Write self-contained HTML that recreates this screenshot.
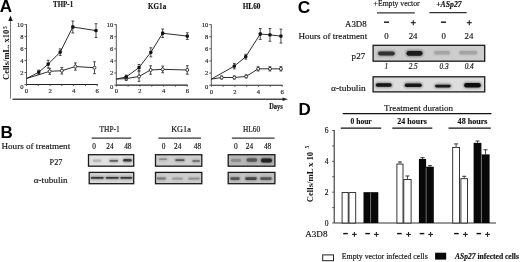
<!DOCTYPE html>
<html><head><meta charset="utf-8"><style>
html,body{margin:0;padding:0;background:#fff;}
body{width:520px;height:262px;overflow:hidden;}
svg{display:block;filter:blur(0.22px);}
</style></head><body>
<svg width="520" height="262" viewBox="0 0 520 262">
<defs><filter id="bl" x="-50%" y="-100%" width="200%" height="300%"><feGaussianBlur stdDeviation="0.6"/></filter><filter id="bl2" x="-50%" y="-150%" width="200%" height="400%"><feGaussianBlur stdDeviation="1.3"/></filter></defs>
<rect width="520" height="262" fill="#fff"/>
<text x="-0.2" y="11.9" font-family='"Liberation Sans", sans-serif' font-size="17" font-weight="bold" font-style="normal" text-anchor="start" fill="#000" >A</text>
<text x="0.5" y="137.8" font-family='"Liberation Sans", sans-serif' font-size="17" font-weight="bold" font-style="normal" text-anchor="start" fill="#000" >B</text>
<text x="297.8" y="12.8" font-family='"Liberation Sans", sans-serif' font-size="17.3" font-weight="bold" font-style="normal" text-anchor="start" fill="#000" >C</text>
<text x="298.5" y="115" font-family='"Liberation Sans", sans-serif' font-size="17" font-weight="bold" font-style="normal" text-anchor="start" fill="#000" >D</text>
<line x1="10.5" y1="20" x2="10.5" y2="98.5" stroke="#777" stroke-width="1"/>
<path d="M10.5,15.5 L8.3,21 L12.7,21 Z" fill="#111"/>
<line x1="12.5" y1="99.25" x2="284" y2="99.25" stroke="#484848" stroke-width="1.5"/>
<path d="M288,99.25 L282.5,97.4 L282.5,101.1 Z" fill="#222"/>
<text x="269.2" y="108.5" font-family='"Liberation Serif", serif' font-size="7.6" font-weight="bold" font-style="normal" text-anchor="start" fill="#111" stroke="#111" stroke-width="0.15" textLength="13.6" lengthAdjust="spacingAndGlyphs" >Days</text>
<text transform="translate(9.4,80.0) rotate(-90)" font-family='"Liberation Serif", serif' font-size="8.6" font-weight="bold" fill="#111" textLength="50.3" lengthAdjust="spacingAndGlyphs">Cells/mL. x10</text>
<text transform="translate(6.6,29.0) rotate(-90)" font-family='"Liberation Serif", serif' font-size="5.5" font-weight="bold" fill="#111">5</text>
<text x="53.1" y="6.9" font-family='"Liberation Serif", serif' font-size="8.5" font-weight="bold" font-style="normal" text-anchor="start" fill="#111" stroke="#111" stroke-width="0.15" textLength="20" lengthAdjust="spacingAndGlyphs" >THP-1</text>
<line x1="26.5" y1="84.5" x2="26.5" y2="24.299999999999994" stroke="#555" stroke-width="1"/>
<line x1="26.5" y1="84.5" x2="97.67999999999999" y2="84.5" stroke="#222" stroke-width="1.1"/>
<line x1="24.5" y1="84.5" x2="26.5" y2="84.5" stroke="#333" stroke-width="0.8"/>
<text x="23.5" y="88.6" font-family='"Liberation Serif", serif' font-size="6.6" font-weight="normal" font-style="normal" text-anchor="end" fill="#222" stroke="#222" stroke-width="0.15" >0</text>
<line x1="24.5" y1="72.52" x2="26.5" y2="72.52" stroke="#333" stroke-width="0.8"/>
<text x="23.5" y="74.82" font-family='"Liberation Serif", serif' font-size="6.6" font-weight="normal" font-style="normal" text-anchor="end" fill="#222" stroke="#222" stroke-width="0.15" >2</text>
<line x1="24.5" y1="60.54" x2="26.5" y2="60.54" stroke="#333" stroke-width="0.8"/>
<text x="23.5" y="62.839999999999996" font-family='"Liberation Serif", serif' font-size="6.6" font-weight="normal" font-style="normal" text-anchor="end" fill="#222" stroke="#222" stroke-width="0.15" >4</text>
<line x1="24.5" y1="48.56" x2="26.5" y2="48.56" stroke="#333" stroke-width="0.8"/>
<text x="23.5" y="50.86" font-family='"Liberation Serif", serif' font-size="6.6" font-weight="normal" font-style="normal" text-anchor="end" fill="#222" stroke="#222" stroke-width="0.15" >6</text>
<line x1="24.5" y1="36.58" x2="26.5" y2="36.58" stroke="#333" stroke-width="0.8"/>
<text x="23.5" y="38.879999999999995" font-family='"Liberation Serif", serif' font-size="6.6" font-weight="normal" font-style="normal" text-anchor="end" fill="#222" stroke="#222" stroke-width="0.15" >8</text>
<line x1="24.5" y1="24.599999999999994" x2="26.5" y2="24.599999999999994" stroke="#333" stroke-width="0.8"/>
<text x="23.5" y="26.899999999999995" font-family='"Liberation Serif", serif' font-size="6.6" font-weight="normal" font-style="normal" text-anchor="end" fill="#222" stroke="#222" stroke-width="0.15" >10</text>
<line x1="26.5" y1="84.5" x2="26.5" y2="86.1" stroke="#333" stroke-width="0.8"/>
<text x="26.5" y="92.8" font-family='"Liberation Serif", serif' font-size="6.6" font-weight="normal" font-style="normal" text-anchor="middle" fill="#222" stroke="#222" stroke-width="0.15" >0</text>
<line x1="38.28" y1="84.5" x2="38.28" y2="86.1" stroke="#333" stroke-width="0.8"/>
<line x1="50.06" y1="84.5" x2="50.06" y2="86.1" stroke="#333" stroke-width="0.8"/>
<text x="50.06" y="92.8" font-family='"Liberation Serif", serif' font-size="6.6" font-weight="normal" font-style="normal" text-anchor="middle" fill="#222" stroke="#222" stroke-width="0.15" >2</text>
<line x1="61.839999999999996" y1="84.5" x2="61.839999999999996" y2="86.1" stroke="#333" stroke-width="0.8"/>
<line x1="73.62" y1="84.5" x2="73.62" y2="86.1" stroke="#333" stroke-width="0.8"/>
<text x="73.62" y="92.8" font-family='"Liberation Serif", serif' font-size="6.6" font-weight="normal" font-style="normal" text-anchor="middle" fill="#222" stroke="#222" stroke-width="0.15" >4</text>
<line x1="85.4" y1="84.5" x2="85.4" y2="86.1" stroke="#333" stroke-width="0.8"/>
<line x1="97.17999999999999" y1="84.5" x2="97.17999999999999" y2="86.1" stroke="#333" stroke-width="0.8"/>
<text x="97.17999999999999" y="92.8" font-family='"Liberation Serif", serif' font-size="6.6" font-weight="normal" font-style="normal" text-anchor="middle" fill="#222" stroke="#222" stroke-width="0.15" >6</text>
<path d="M26.50,78.51 L49.71,71.32 L61.84,70.72 L75.39,66.53 L94.47,67.73" fill="none" stroke="#222" stroke-width="0.95"/>
<line x1="49.706599999999995" y1="68.327" x2="49.706599999999995" y2="74.317" stroke="#222" stroke-width="0.8"/>
<line x1="48.306599999999996" y1="68.327" x2="51.10659999999999" y2="68.327" stroke="#222" stroke-width="0.8"/>
<line x1="48.306599999999996" y1="74.317" x2="51.10659999999999" y2="74.317" stroke="#222" stroke-width="0.8"/>
<line x1="61.839999999999996" y1="67.4285" x2="61.839999999999996" y2="74.0175" stroke="#222" stroke-width="0.8"/>
<line x1="60.44" y1="67.4285" x2="63.239999999999995" y2="67.4285" stroke="#222" stroke-width="0.8"/>
<line x1="60.44" y1="74.0175" x2="63.239999999999995" y2="74.0175" stroke="#222" stroke-width="0.8"/>
<line x1="75.387" y1="62.936" x2="75.387" y2="70.124" stroke="#222" stroke-width="0.8"/>
<line x1="73.987" y1="62.936" x2="76.787" y2="62.936" stroke="#222" stroke-width="0.8"/>
<line x1="73.987" y1="70.124" x2="76.787" y2="70.124" stroke="#222" stroke-width="0.8"/>
<line x1="94.47059999999999" y1="61.738" x2="94.47059999999999" y2="73.718" stroke="#222" stroke-width="0.8"/>
<line x1="93.07059999999998" y1="61.738" x2="95.8706" y2="61.738" stroke="#222" stroke-width="0.8"/>
<line x1="93.07059999999998" y1="73.718" x2="95.8706" y2="73.718" stroke="#222" stroke-width="0.8"/>
<circle cx="49.71" cy="71.32" r="1.5" fill="#fff" stroke="#222" stroke-width="0.9"/>
<circle cx="61.84" cy="70.72" r="1.5" fill="#fff" stroke="#222" stroke-width="0.9"/>
<circle cx="75.39" cy="66.53" r="1.5" fill="#fff" stroke="#222" stroke-width="0.9"/>
<circle cx="94.47" cy="67.73" r="1.5" fill="#fff" stroke="#222" stroke-width="0.9"/>
<path d="M26.50,78.51 L38.75,72.22 L48.18,64.13 L60.19,52.15 L72.80,27.00 L96.00,30.59" fill="none" stroke="#222" stroke-width="0.95"/>
<line x1="38.7512" y1="70.124" x2="38.7512" y2="74.31700000000001" stroke="#222" stroke-width="0.8"/>
<line x1="37.3512" y1="70.124" x2="40.151199999999996" y2="70.124" stroke="#222" stroke-width="0.8"/>
<line x1="37.3512" y1="74.31700000000001" x2="40.151199999999996" y2="74.31700000000001" stroke="#222" stroke-width="0.8"/>
<line x1="48.175200000000004" y1="60.2405" x2="48.175200000000004" y2="68.0275" stroke="#222" stroke-width="0.8"/>
<line x1="46.775200000000005" y1="60.2405" x2="49.5752" y2="60.2405" stroke="#222" stroke-width="0.8"/>
<line x1="46.775200000000005" y1="68.0275" x2="49.5752" y2="68.0275" stroke="#222" stroke-width="0.8"/>
<line x1="60.190799999999996" y1="48.8595" x2="60.190799999999996" y2="55.448499999999996" stroke="#222" stroke-width="0.8"/>
<line x1="58.7908" y1="48.8595" x2="61.590799999999994" y2="48.8595" stroke="#222" stroke-width="0.8"/>
<line x1="58.7908" y1="55.448499999999996" x2="61.590799999999994" y2="55.448499999999996" stroke="#222" stroke-width="0.8"/>
<line x1="72.7954" y1="21.006" x2="72.7954" y2="32.986" stroke="#222" stroke-width="0.8"/>
<line x1="71.3954" y1="21.006" x2="74.1954" y2="21.006" stroke="#222" stroke-width="0.8"/>
<line x1="71.3954" y1="32.986" x2="74.1954" y2="32.986" stroke="#222" stroke-width="0.8"/>
<line x1="96.002" y1="23.701499999999996" x2="96.002" y2="37.478500000000004" stroke="#222" stroke-width="0.8"/>
<line x1="94.60199999999999" y1="23.701499999999996" x2="97.402" y2="23.701499999999996" stroke="#222" stroke-width="0.8"/>
<line x1="94.60199999999999" y1="37.478500000000004" x2="97.402" y2="37.478500000000004" stroke="#222" stroke-width="0.8"/>
<rect x="37.1012" y="70.5705" width="3.3" height="3.3" fill="#111" stroke="none" stroke-width="1" rx="1"/>
<rect x="46.525200000000005" y="62.484" width="3.3" height="3.3" fill="#111" stroke="none" stroke-width="1" rx="1"/>
<rect x="58.5408" y="50.504" width="3.3" height="3.3" fill="#111" stroke="none" stroke-width="1" rx="1"/>
<rect x="71.1454" y="25.346000000000004" width="3.3" height="3.3" fill="#111" stroke="none" stroke-width="1" rx="1"/>
<rect x="94.35199999999999" y="28.939999999999998" width="3.3" height="3.3" fill="#111" stroke="none" stroke-width="1" rx="1"/>
<text x="148.1" y="8.9" font-family='"Liberation Serif", serif' font-size="8.5" font-weight="bold" font-style="normal" text-anchor="start" fill="#111" stroke="#111" stroke-width="0.15" textLength="18.1" lengthAdjust="spacingAndGlyphs" >KG1a</text>
<line x1="116.3" y1="85.1" x2="116.3" y2="24.300000000000008" stroke="#555" stroke-width="1"/>
<line x1="116.3" y1="85.1" x2="187.78" y2="85.1" stroke="#222" stroke-width="1.1"/>
<line x1="114.3" y1="85.1" x2="116.3" y2="85.1" stroke="#333" stroke-width="0.8"/>
<text x="113.3" y="89.19999999999999" font-family='"Liberation Serif", serif' font-size="6.6" font-weight="normal" font-style="normal" text-anchor="end" fill="#222" stroke="#222" stroke-width="0.15" >0</text>
<line x1="114.3" y1="73.0" x2="116.3" y2="73.0" stroke="#333" stroke-width="0.8"/>
<text x="113.3" y="75.3" font-family='"Liberation Serif", serif' font-size="6.6" font-weight="normal" font-style="normal" text-anchor="end" fill="#222" stroke="#222" stroke-width="0.15" >2</text>
<line x1="114.3" y1="60.9" x2="116.3" y2="60.9" stroke="#333" stroke-width="0.8"/>
<text x="113.3" y="63.199999999999996" font-family='"Liberation Serif", serif' font-size="6.6" font-weight="normal" font-style="normal" text-anchor="end" fill="#222" stroke="#222" stroke-width="0.15" >4</text>
<line x1="114.3" y1="48.8" x2="116.3" y2="48.8" stroke="#333" stroke-width="0.8"/>
<text x="113.3" y="51.099999999999994" font-family='"Liberation Serif", serif' font-size="6.6" font-weight="normal" font-style="normal" text-anchor="end" fill="#222" stroke="#222" stroke-width="0.15" >6</text>
<line x1="114.3" y1="36.7" x2="116.3" y2="36.7" stroke="#333" stroke-width="0.8"/>
<text x="113.3" y="39.0" font-family='"Liberation Serif", serif' font-size="6.6" font-weight="normal" font-style="normal" text-anchor="end" fill="#222" stroke="#222" stroke-width="0.15" >8</text>
<line x1="114.3" y1="24.60000000000001" x2="116.3" y2="24.60000000000001" stroke="#333" stroke-width="0.8"/>
<text x="113.3" y="26.90000000000001" font-family='"Liberation Serif", serif' font-size="6.6" font-weight="normal" font-style="normal" text-anchor="end" fill="#222" stroke="#222" stroke-width="0.15" >10</text>
<line x1="116.3" y1="85.1" x2="116.3" y2="86.69999999999999" stroke="#333" stroke-width="0.8"/>
<text x="116.3" y="93.39999999999999" font-family='"Liberation Serif", serif' font-size="6.6" font-weight="normal" font-style="normal" text-anchor="middle" fill="#222" stroke="#222" stroke-width="0.15" >0</text>
<line x1="128.13" y1="85.1" x2="128.13" y2="86.69999999999999" stroke="#333" stroke-width="0.8"/>
<line x1="139.96" y1="85.1" x2="139.96" y2="86.69999999999999" stroke="#333" stroke-width="0.8"/>
<text x="139.96" y="93.39999999999999" font-family='"Liberation Serif", serif' font-size="6.6" font-weight="normal" font-style="normal" text-anchor="middle" fill="#222" stroke="#222" stroke-width="0.15" >2</text>
<line x1="151.79" y1="85.1" x2="151.79" y2="86.69999999999999" stroke="#333" stroke-width="0.8"/>
<line x1="163.62" y1="85.1" x2="163.62" y2="86.69999999999999" stroke="#333" stroke-width="0.8"/>
<text x="163.62" y="93.39999999999999" font-family='"Liberation Serif", serif' font-size="6.6" font-weight="normal" font-style="normal" text-anchor="middle" fill="#222" stroke="#222" stroke-width="0.15" >4</text>
<line x1="175.45" y1="85.1" x2="175.45" y2="86.69999999999999" stroke="#333" stroke-width="0.8"/>
<line x1="187.28" y1="85.1" x2="187.28" y2="86.69999999999999" stroke="#333" stroke-width="0.8"/>
<text x="187.28" y="93.39999999999999" font-family='"Liberation Serif", serif' font-size="6.6" font-weight="normal" font-style="normal" text-anchor="middle" fill="#222" stroke="#222" stroke-width="0.15" >6</text>
<path d="M116.30,79.05 L126.24,78.57 L139.01,76.51 L150.61,69.97 L162.67,69.37 L187.28,69.97" fill="none" stroke="#222" stroke-width="0.95"/>
<line x1="126.2372" y1="76.75099999999999" x2="126.2372" y2="80.381" stroke="#222" stroke-width="0.8"/>
<line x1="124.8372" y1="76.75099999999999" x2="127.6372" y2="76.75099999999999" stroke="#222" stroke-width="0.8"/>
<line x1="124.8372" y1="80.381" x2="127.6372" y2="80.381" stroke="#222" stroke-width="0.8"/>
<line x1="139.0136" y1="71.669" x2="139.0136" y2="81.34899999999999" stroke="#222" stroke-width="0.8"/>
<line x1="137.6136" y1="71.669" x2="140.4136" y2="71.669" stroke="#222" stroke-width="0.8"/>
<line x1="137.6136" y1="81.34899999999999" x2="140.4136" y2="81.34899999999999" stroke="#222" stroke-width="0.8"/>
<line x1="150.607" y1="65.74" x2="150.607" y2="74.21" stroke="#222" stroke-width="0.8"/>
<line x1="149.207" y1="65.74" x2="152.007" y2="65.74" stroke="#222" stroke-width="0.8"/>
<line x1="149.207" y1="74.21" x2="152.007" y2="74.21" stroke="#222" stroke-width="0.8"/>
<line x1="162.6736" y1="66.04249999999999" x2="162.6736" y2="72.69749999999999" stroke="#222" stroke-width="0.8"/>
<line x1="161.2736" y1="66.04249999999999" x2="164.0736" y2="66.04249999999999" stroke="#222" stroke-width="0.8"/>
<line x1="161.2736" y1="72.69749999999999" x2="164.0736" y2="72.69749999999999" stroke="#222" stroke-width="0.8"/>
<line x1="187.28" y1="65.74" x2="187.28" y2="74.21" stroke="#222" stroke-width="0.8"/>
<line x1="185.88" y1="65.74" x2="188.68" y2="65.74" stroke="#222" stroke-width="0.8"/>
<line x1="185.88" y1="74.21" x2="188.68" y2="74.21" stroke="#222" stroke-width="0.8"/>
<circle cx="126.24" cy="78.57" r="1.5" fill="#fff" stroke="#222" stroke-width="0.9"/>
<circle cx="139.01" cy="76.51" r="1.5" fill="#fff" stroke="#222" stroke-width="0.9"/>
<circle cx="150.61" cy="69.97" r="1.5" fill="#fff" stroke="#222" stroke-width="0.9"/>
<circle cx="162.67" cy="69.37" r="1.5" fill="#fff" stroke="#222" stroke-width="0.9"/>
<circle cx="187.28" cy="69.97" r="1.5" fill="#fff" stroke="#222" stroke-width="0.9"/>
<path d="M116.30,79.05 L126.24,76.93 L139.01,67.56 L150.84,52.31 L162.67,33.25 L187.28,36.10" fill="none" stroke="#222" stroke-width="0.95"/>
<line x1="126.2372" y1="75.11749999999999" x2="126.2372" y2="78.7475" stroke="#222" stroke-width="0.8"/>
<line x1="124.8372" y1="75.11749999999999" x2="127.6372" y2="75.11749999999999" stroke="#222" stroke-width="0.8"/>
<line x1="124.8372" y1="78.7475" x2="127.6372" y2="78.7475" stroke="#222" stroke-width="0.8"/>
<line x1="139.0136" y1="64.53" x2="139.0136" y2="70.58" stroke="#222" stroke-width="0.8"/>
<line x1="137.6136" y1="64.53" x2="140.4136" y2="64.53" stroke="#222" stroke-width="0.8"/>
<line x1="137.6136" y1="70.58" x2="140.4136" y2="70.58" stroke="#222" stroke-width="0.8"/>
<line x1="150.84359999999998" y1="47.7715" x2="150.84359999999998" y2="56.8465" stroke="#222" stroke-width="0.8"/>
<line x1="149.44359999999998" y1="47.7715" x2="152.2436" y2="47.7715" stroke="#222" stroke-width="0.8"/>
<line x1="149.44359999999998" y1="56.8465" x2="152.2436" y2="56.8465" stroke="#222" stroke-width="0.8"/>
<line x1="162.6736" y1="29.016500000000008" x2="162.6736" y2="37.4865" stroke="#222" stroke-width="0.8"/>
<line x1="161.2736" y1="29.016500000000008" x2="164.0736" y2="29.016500000000008" stroke="#222" stroke-width="0.8"/>
<line x1="161.2736" y1="37.4865" x2="164.0736" y2="37.4865" stroke="#222" stroke-width="0.8"/>
<line x1="187.28" y1="32.7675" x2="187.28" y2="39.42250000000001" stroke="#222" stroke-width="0.8"/>
<line x1="185.88" y1="32.7675" x2="188.68" y2="32.7675" stroke="#222" stroke-width="0.8"/>
<line x1="185.88" y1="39.42250000000001" x2="188.68" y2="39.42250000000001" stroke="#222" stroke-width="0.8"/>
<rect x="124.5872" y="75.28249999999998" width="3.3" height="3.3" fill="#111" stroke="none" stroke-width="1" rx="1"/>
<rect x="137.3636" y="65.905" width="3.3" height="3.3" fill="#111" stroke="none" stroke-width="1" rx="1"/>
<rect x="149.19359999999998" y="50.659" width="3.3" height="3.3" fill="#111" stroke="none" stroke-width="1" rx="1"/>
<rect x="161.0236" y="31.6015" width="3.3" height="3.3" fill="#111" stroke="none" stroke-width="1" rx="1"/>
<rect x="185.63" y="34.44500000000001" width="3.3" height="3.3" fill="#111" stroke="none" stroke-width="1" rx="1"/>
<text x="242.7" y="8.5" font-family='"Liberation Serif", serif' font-size="8.5" font-weight="bold" font-style="normal" text-anchor="start" fill="#111" stroke="#111" stroke-width="0.15" textLength="17.7" lengthAdjust="spacingAndGlyphs" >HL60</text>
<line x1="211.3" y1="85.2" x2="211.3" y2="24.299999999999994" stroke="#555" stroke-width="1"/>
<line x1="211.3" y1="85.2" x2="282.6" y2="85.2" stroke="#222" stroke-width="1.1"/>
<line x1="209.3" y1="85.2" x2="211.3" y2="85.2" stroke="#333" stroke-width="0.8"/>
<text x="208.3" y="89.3" font-family='"Liberation Serif", serif' font-size="6.6" font-weight="normal" font-style="normal" text-anchor="end" fill="#222" stroke="#222" stroke-width="0.15" >0</text>
<line x1="209.3" y1="73.08" x2="211.3" y2="73.08" stroke="#333" stroke-width="0.8"/>
<text x="208.3" y="75.38" font-family='"Liberation Serif", serif' font-size="6.6" font-weight="normal" font-style="normal" text-anchor="end" fill="#222" stroke="#222" stroke-width="0.15" >2</text>
<line x1="209.3" y1="60.96" x2="211.3" y2="60.96" stroke="#333" stroke-width="0.8"/>
<text x="208.3" y="63.26" font-family='"Liberation Serif", serif' font-size="6.6" font-weight="normal" font-style="normal" text-anchor="end" fill="#222" stroke="#222" stroke-width="0.15" >4</text>
<line x1="209.3" y1="48.84" x2="211.3" y2="48.84" stroke="#333" stroke-width="0.8"/>
<text x="208.3" y="51.14" font-family='"Liberation Serif", serif' font-size="6.6" font-weight="normal" font-style="normal" text-anchor="end" fill="#222" stroke="#222" stroke-width="0.15" >6</text>
<line x1="209.3" y1="36.72" x2="211.3" y2="36.72" stroke="#333" stroke-width="0.8"/>
<text x="208.3" y="39.019999999999996" font-family='"Liberation Serif", serif' font-size="6.6" font-weight="normal" font-style="normal" text-anchor="end" fill="#222" stroke="#222" stroke-width="0.15" >8</text>
<line x1="209.3" y1="24.599999999999994" x2="211.3" y2="24.599999999999994" stroke="#333" stroke-width="0.8"/>
<text x="208.3" y="26.899999999999995" font-family='"Liberation Serif", serif' font-size="6.6" font-weight="normal" font-style="normal" text-anchor="end" fill="#222" stroke="#222" stroke-width="0.15" >10</text>
<line x1="211.3" y1="85.2" x2="211.3" y2="86.8" stroke="#333" stroke-width="0.8"/>
<text x="211.3" y="93.5" font-family='"Liberation Serif", serif' font-size="6.6" font-weight="normal" font-style="normal" text-anchor="middle" fill="#222" stroke="#222" stroke-width="0.15" >0</text>
<line x1="223.10000000000002" y1="85.2" x2="223.10000000000002" y2="86.8" stroke="#333" stroke-width="0.8"/>
<line x1="234.9" y1="85.2" x2="234.9" y2="86.8" stroke="#333" stroke-width="0.8"/>
<text x="234.9" y="93.5" font-family='"Liberation Serif", serif' font-size="6.6" font-weight="normal" font-style="normal" text-anchor="middle" fill="#222" stroke="#222" stroke-width="0.15" >2</text>
<line x1="246.70000000000002" y1="85.2" x2="246.70000000000002" y2="86.8" stroke="#333" stroke-width="0.8"/>
<line x1="258.5" y1="85.2" x2="258.5" y2="86.8" stroke="#333" stroke-width="0.8"/>
<text x="258.5" y="93.5" font-family='"Liberation Serif", serif' font-size="6.6" font-weight="normal" font-style="normal" text-anchor="middle" fill="#222" stroke="#222" stroke-width="0.15" >4</text>
<line x1="270.3" y1="85.2" x2="270.3" y2="86.8" stroke="#333" stroke-width="0.8"/>
<line x1="282.1" y1="85.2" x2="282.1" y2="86.8" stroke="#333" stroke-width="0.8"/>
<text x="282.1" y="93.5" font-family='"Liberation Serif", serif' font-size="6.6" font-weight="normal" font-style="normal" text-anchor="middle" fill="#222" stroke="#222" stroke-width="0.15" >6</text>
<path d="M211.30,79.14 L221.68,77.50 L234.31,77.50 L246.11,76.41 L258.15,68.84 L269.95,68.84 L280.92,68.84" fill="none" stroke="#222" stroke-width="0.95"/>
<line x1="221.68400000000003" y1="75.9888" x2="221.68400000000003" y2="79.0188" stroke="#222" stroke-width="0.8"/>
<line x1="220.28400000000002" y1="75.9888" x2="223.08400000000003" y2="75.9888" stroke="#222" stroke-width="0.8"/>
<line x1="220.28400000000002" y1="79.0188" x2="223.08400000000003" y2="79.0188" stroke="#222" stroke-width="0.8"/>
<line x1="234.31" y1="75.9888" x2="234.31" y2="79.0188" stroke="#222" stroke-width="0.8"/>
<line x1="232.91" y1="75.9888" x2="235.71" y2="75.9888" stroke="#222" stroke-width="0.8"/>
<line x1="232.91" y1="79.0188" x2="235.71" y2="79.0188" stroke="#222" stroke-width="0.8"/>
<line x1="246.11" y1="74.898" x2="246.11" y2="77.928" stroke="#222" stroke-width="0.8"/>
<line x1="244.71" y1="74.898" x2="247.51000000000002" y2="74.898" stroke="#222" stroke-width="0.8"/>
<line x1="244.71" y1="77.928" x2="247.51000000000002" y2="77.928" stroke="#222" stroke-width="0.8"/>
<line x1="258.146" y1="66.717" x2="258.146" y2="70.959" stroke="#222" stroke-width="0.8"/>
<line x1="256.74600000000004" y1="66.717" x2="259.546" y2="66.717" stroke="#222" stroke-width="0.8"/>
<line x1="256.74600000000004" y1="70.959" x2="259.546" y2="70.959" stroke="#222" stroke-width="0.8"/>
<line x1="269.946" y1="66.717" x2="269.946" y2="70.959" stroke="#222" stroke-width="0.8"/>
<line x1="268.54600000000005" y1="66.717" x2="271.346" y2="66.717" stroke="#222" stroke-width="0.8"/>
<line x1="268.54600000000005" y1="70.959" x2="271.346" y2="70.959" stroke="#222" stroke-width="0.8"/>
<line x1="280.92" y1="66.717" x2="280.92" y2="70.959" stroke="#222" stroke-width="0.8"/>
<line x1="279.52000000000004" y1="66.717" x2="282.32" y2="66.717" stroke="#222" stroke-width="0.8"/>
<line x1="279.52000000000004" y1="70.959" x2="282.32" y2="70.959" stroke="#222" stroke-width="0.8"/>
<circle cx="221.68" cy="77.50" r="1.5" fill="#fff" stroke="#222" stroke-width="0.9"/>
<circle cx="234.31" cy="77.50" r="1.5" fill="#fff" stroke="#222" stroke-width="0.9"/>
<circle cx="246.11" cy="76.41" r="1.5" fill="#fff" stroke="#222" stroke-width="0.9"/>
<circle cx="258.15" cy="68.84" r="1.5" fill="#fff" stroke="#222" stroke-width="0.9"/>
<circle cx="269.95" cy="68.84" r="1.5" fill="#fff" stroke="#222" stroke-width="0.9"/>
<circle cx="280.92" cy="68.84" r="1.5" fill="#fff" stroke="#222" stroke-width="0.9"/>
<path d="M211.30,79.14 L234.31,66.11 L245.76,56.72 L260.27,33.99 L269.95,34.90 L280.92,36.11" fill="none" stroke="#222" stroke-width="0.95"/>
<line x1="234.31" y1="63.384" x2="234.31" y2="68.83800000000001" stroke="#222" stroke-width="0.8"/>
<line x1="232.91" y1="63.384" x2="235.71" y2="63.384" stroke="#222" stroke-width="0.8"/>
<line x1="232.91" y1="68.83800000000001" x2="235.71" y2="68.83800000000001" stroke="#222" stroke-width="0.8"/>
<line x1="245.75600000000003" y1="54.294" x2="245.75600000000003" y2="59.142" stroke="#222" stroke-width="0.8"/>
<line x1="244.35600000000002" y1="54.294" x2="247.15600000000003" y2="54.294" stroke="#222" stroke-width="0.8"/>
<line x1="244.35600000000002" y1="59.142" x2="247.15600000000003" y2="59.142" stroke="#222" stroke-width="0.8"/>
<line x1="260.27000000000004" y1="28.539" x2="260.27000000000004" y2="39.447" stroke="#222" stroke-width="0.8"/>
<line x1="258.87000000000006" y1="28.539" x2="261.67" y2="28.539" stroke="#222" stroke-width="0.8"/>
<line x1="258.87000000000006" y1="39.447" x2="261.67" y2="39.447" stroke="#222" stroke-width="0.8"/>
<line x1="269.946" y1="28.538999999999987" x2="269.946" y2="41.26499999999999" stroke="#222" stroke-width="0.8"/>
<line x1="268.54600000000005" y1="28.538999999999987" x2="271.346" y2="28.538999999999987" stroke="#222" stroke-width="0.8"/>
<line x1="268.54600000000005" y1="41.26499999999999" x2="271.346" y2="41.26499999999999" stroke="#222" stroke-width="0.8"/>
<line x1="280.92" y1="29.144999999999996" x2="280.92" y2="43.083000000000006" stroke="#222" stroke-width="0.8"/>
<line x1="279.52000000000004" y1="29.144999999999996" x2="282.32" y2="29.144999999999996" stroke="#222" stroke-width="0.8"/>
<line x1="279.52000000000004" y1="43.083000000000006" x2="282.32" y2="43.083000000000006" stroke="#222" stroke-width="0.8"/>
<rect x="232.66" y="64.461" width="3.3" height="3.3" fill="#111" stroke="none" stroke-width="1" rx="1"/>
<rect x="244.10600000000002" y="55.068000000000005" width="3.3" height="3.3" fill="#111" stroke="none" stroke-width="1" rx="1"/>
<rect x="258.62000000000006" y="32.343" width="3.3" height="3.3" fill="#111" stroke="none" stroke-width="1" rx="1"/>
<rect x="268.29600000000005" y="33.251999999999995" width="3.3" height="3.3" fill="#111" stroke="none" stroke-width="1" rx="1"/>
<rect x="279.27000000000004" y="34.464000000000006" width="3.3" height="3.3" fill="#111" stroke="none" stroke-width="1" rx="1"/>
<text x="1.5" y="148.7" font-family='"Liberation Serif", serif' font-size="9" font-weight="normal" font-style="normal" text-anchor="start" fill="#111" stroke="#111" stroke-width="0.15" textLength="68.7" lengthAdjust="spacingAndGlyphs" >Hours of treatment</text>
<text x="62.5" y="165.4" font-family='"Liberation Serif", serif' font-size="9" font-weight="normal" font-style="normal" text-anchor="end" fill="#111" stroke="#111" stroke-width="0.15" textLength="12.9" lengthAdjust="spacingAndGlyphs" >P27</text>
<text x="67.7" y="182.7" font-family='"Liberation Serif", serif' font-size="9" font-weight="normal" font-style="normal" text-anchor="end" fill="#111" stroke="#111" stroke-width="0.15" textLength="34" lengthAdjust="spacingAndGlyphs" >&#945;-tubulin</text>
<text x="109.6" y="132.1" font-family='"Liberation Serif", serif' font-size="7.4" font-weight="normal" font-style="normal" text-anchor="middle" fill="#111" stroke="#111" stroke-width="0.15" textLength="20.4" lengthAdjust="spacingAndGlyphs" >THP-1</text>
<line x1="91.6" y1="138.1" x2="131.3" y2="138.1" stroke="#333" stroke-width="1.2"/>
<text x="94.10000000000001" y="149.0" font-family='"Liberation Serif", serif' font-size="7.3" font-weight="normal" font-style="normal" text-anchor="middle" fill="#111" stroke="#111" stroke-width="0.15" >0</text>
<text x="109.9" y="149.0" font-family='"Liberation Serif", serif' font-size="7.3" font-weight="normal" font-style="normal" text-anchor="middle" fill="#111" stroke="#111" stroke-width="0.15" >24</text>
<text x="127.8" y="149.0" font-family='"Liberation Serif", serif' font-size="7.3" font-weight="normal" font-style="normal" text-anchor="middle" fill="#111" stroke="#111" stroke-width="0.15" >48</text>
<rect x="88.5" y="154.7" width="45.2" height="11.5" fill="#e2e2e2" stroke="#1a1a1a" stroke-width="1.3" />
<rect x="92.0" y="158.8" width="10.099999999999994" height="4.0" rx="2.0" fill="#b8b8b8" opacity="0.45" filter="url(#bl2)"/>
<rect x="92.8" y="159.6" width="8.499999999999995" height="2.4" rx="1.2" fill="#b8b8b8" filter="url(#bl)"/>
<rect x="108.7" y="159.10000000000002" width="10.099999999999994" height="3.4000000000000004" rx="1.7000000000000002" fill="#606060" opacity="0.45" filter="url(#bl2)"/>
<rect x="109.5" y="159.9" width="8.499999999999995" height="1.8000000000000003" rx="0.9000000000000001" fill="#606060" filter="url(#bl)"/>
<rect x="122.4" y="158.20000000000002" width="10.099999999999994" height="4.2" rx="2.1" fill="#3a3a3a" opacity="0.45" filter="url(#bl2)"/>
<rect x="123.2" y="159.0" width="8.499999999999995" height="2.6" rx="1.3" fill="#3a3a3a" filter="url(#bl)"/>
<rect x="89.2" y="172.4" width="44.5" height="11.3" fill="#d9d9d9" stroke="#1a1a1a" stroke-width="1.3" />
<rect x="90.0" y="176.10000000000002" width="14.5" height="3.4000000000000004" rx="1.7000000000000002" fill="#383838" opacity="0.45" filter="url(#bl2)"/>
<rect x="90.8" y="176.9" width="12.9" height="1.8000000000000003" rx="0.9000000000000001" fill="#383838" filter="url(#bl)"/>
<rect x="105.0" y="176.10000000000002" width="14.5" height="3.4000000000000004" rx="1.7000000000000002" fill="#383838" opacity="0.45" filter="url(#bl2)"/>
<rect x="105.8" y="176.9" width="12.9" height="1.8000000000000003" rx="0.9000000000000001" fill="#383838" filter="url(#bl)"/>
<rect x="119.5" y="176.10000000000002" width="13.5" height="3.4000000000000004" rx="1.7000000000000002" fill="#383838" opacity="0.45" filter="url(#bl2)"/>
<rect x="120.3" y="176.9" width="11.9" height="1.8000000000000003" rx="0.9000000000000001" fill="#383838" filter="url(#bl)"/>
<text x="181" y="132.1" font-family='"Liberation Serif", serif' font-size="7.4" font-weight="normal" font-style="normal" text-anchor="middle" fill="#111" stroke="#111" stroke-width="0.15" textLength="19.7" lengthAdjust="spacingAndGlyphs" >KG1a</text>
<line x1="158.4" y1="138.1" x2="201.1" y2="138.1" stroke="#333" stroke-width="1.2"/>
<text x="163.70000000000002" y="149.0" font-family='"Liberation Serif", serif' font-size="7.3" font-weight="normal" font-style="normal" text-anchor="middle" fill="#111" stroke="#111" stroke-width="0.15" >0</text>
<text x="177.7" y="149.0" font-family='"Liberation Serif", serif' font-size="7.3" font-weight="normal" font-style="normal" text-anchor="middle" fill="#111" stroke="#111" stroke-width="0.15" >24</text>
<text x="197.5" y="149.0" font-family='"Liberation Serif", serif' font-size="7.3" font-weight="normal" font-style="normal" text-anchor="middle" fill="#111" stroke="#111" stroke-width="0.15" >48</text>
<rect x="155.5" y="154.7" width="46.3" height="11.5" fill="#d0d0d0" stroke="#1a1a1a" stroke-width="1.3" />
<rect x="158.3" y="157.7" width="9.5" height="3.0" rx="1.5" fill="#8a8a8a" opacity="0.45" filter="url(#bl2)"/>
<rect x="159.10000000000002" y="158.49999999999997" width="7.9" height="1.4" rx="0.7" fill="#8a8a8a" filter="url(#bl)"/>
<rect x="174.5" y="158.4" width="10.800000000000011" height="3.4000000000000004" rx="1.7000000000000002" fill="#555" opacity="0.45" filter="url(#bl2)"/>
<rect x="175.3" y="159.2" width="9.200000000000012" height="1.8000000000000003" rx="0.9000000000000001" fill="#555" filter="url(#bl)"/>
<rect x="191.4" y="159.3" width="9.400000000000006" height="3.5999999999999996" rx="1.7999999999999998" fill="#777" opacity="0.45" filter="url(#bl2)"/>
<rect x="192.20000000000002" y="160.1" width="7.800000000000006" height="2.0" rx="1.0" fill="#777" filter="url(#bl)"/>
<rect x="155.5" y="172.4" width="46.3" height="11.3" fill="#cecece" stroke="#1a1a1a" stroke-width="1.3" />
<rect x="156.0" y="176.8" width="10.5" height="3.5999999999999996" rx="1.7999999999999998" fill="#777" opacity="0.45" filter="url(#bl2)"/>
<rect x="156.8" y="177.6" width="8.9" height="2.0" rx="1.0" fill="#777" filter="url(#bl)"/>
<rect x="171.5" y="177.0" width="12" height="3.2" rx="1.6" fill="#999" opacity="0.45" filter="url(#bl2)"/>
<rect x="172.3" y="177.79999999999998" width="10.4" height="1.6" rx="0.8" fill="#999" filter="url(#bl)"/>
<rect x="187.5" y="177.0" width="13" height="3.2" rx="1.6" fill="#8f8f8f" opacity="0.45" filter="url(#bl2)"/>
<rect x="188.3" y="177.79999999999998" width="11.4" height="1.6" rx="0.8" fill="#8f8f8f" filter="url(#bl)"/>
<text x="251.6" y="132.1" font-family='"Liberation Serif", serif' font-size="7.4" font-weight="normal" font-style="normal" text-anchor="middle" fill="#111" stroke="#111" stroke-width="0.15" textLength="17.1" lengthAdjust="spacingAndGlyphs" >HL60</text>
<line x1="231.9" y1="138.1" x2="274.6" y2="138.1" stroke="#333" stroke-width="1.2"/>
<text x="235.9" y="149.0" font-family='"Liberation Serif", serif' font-size="7.3" font-weight="normal" font-style="normal" text-anchor="middle" fill="#111" stroke="#111" stroke-width="0.15" >0</text>
<text x="249.4" y="149.0" font-family='"Liberation Serif", serif' font-size="7.3" font-weight="normal" font-style="normal" text-anchor="middle" fill="#111" stroke="#111" stroke-width="0.15" >24</text>
<text x="267.6" y="149.0" font-family='"Liberation Serif", serif' font-size="7.3" font-weight="normal" font-style="normal" text-anchor="middle" fill="#111" stroke="#111" stroke-width="0.15" >48</text>
<rect x="228.2" y="154.7" width="46.7" height="11.5" fill="#b9b9b9" stroke="#1a1a1a" stroke-width="1.3" />
<rect x="230.3" y="158.3" width="11.399999999999977" height="4.2" rx="2.1" fill="#8a8a8a" opacity="0.45" filter="url(#bl2)"/>
<rect x="231.10000000000002" y="159.1" width="9.799999999999978" height="2.6" rx="1.3" fill="#8a8a8a" filter="url(#bl)"/>
<rect x="245.9" y="157.5" width="11.999999999999972" height="5.0" rx="2.5" fill="#555" opacity="0.45" filter="url(#bl2)"/>
<rect x="246.70000000000002" y="158.29999999999998" width="10.399999999999972" height="3.4" rx="1.7" fill="#555" filter="url(#bl)"/>
<rect x="260.2" y="157.60000000000002" width="12.600000000000023" height="5.6000000000000005" rx="2.8000000000000003" fill="#222" opacity="0.45" filter="url(#bl2)"/>
<rect x="261.0" y="158.4" width="11.000000000000023" height="4.0" rx="2.0" fill="#222" filter="url(#bl)"/>
<rect x="228.2" y="172.4" width="46.7" height="11.3" fill="#c4c4c4" stroke="#1a1a1a" stroke-width="1.3" />
<rect x="229.5" y="176.5" width="11" height="4.2" rx="2.1" fill="#555" opacity="0.45" filter="url(#bl2)"/>
<rect x="230.3" y="177.29999999999998" width="9.4" height="2.6" rx="1.3" fill="#555" filter="url(#bl)"/>
<rect x="244.5" y="176.5" width="13" height="4.2" rx="2.1" fill="#444" opacity="0.45" filter="url(#bl2)"/>
<rect x="245.3" y="177.29999999999998" width="11.4" height="2.6" rx="1.3" fill="#444" filter="url(#bl)"/>
<rect x="259.5" y="176.5" width="13" height="4.2" rx="2.1" fill="#555" opacity="0.45" filter="url(#bl2)"/>
<rect x="260.3" y="177.29999999999998" width="11.4" height="2.6" rx="1.3" fill="#555" filter="url(#bl)"/>
<text x="373.6" y="6.4" font-family='"Liberation Serif", serif' font-size="7.4" font-weight="normal" font-style="normal" text-anchor="start" fill="#111" stroke="#111" stroke-width="0.15" textLength="46" lengthAdjust="spacingAndGlyphs" >+Empty vector</text>
<text x="436.2" y="6.8" font-family='"Liberation Serif", serif' font-size="7.7" font-weight="bold" font-style="italic" text-anchor="start" fill="#111" stroke="#111" stroke-width="0.15" textLength="25.5" lengthAdjust="spacingAndGlyphs" >+ASp27</text>
<line x1="377" y1="12.8" x2="414.8" y2="12.8" stroke="#333" stroke-width="1.2"/>
<line x1="429.4" y1="12.6" x2="466.7" y2="12.6" stroke="#333" stroke-width="1.2"/>
<text x="366.6" y="26.7" font-family='"Liberation Serif", serif' font-size="8.5" font-weight="normal" font-style="normal" text-anchor="end" fill="#111" stroke="#111" stroke-width="0.15" textLength="21.6" lengthAdjust="spacingAndGlyphs" >A3D8</text>
<text x="367.2" y="39.1" font-family='"Liberation Serif", serif' font-size="9" font-weight="normal" font-style="normal" text-anchor="end" fill="#111" stroke="#111" stroke-width="0.15" textLength="68.8" lengthAdjust="spacingAndGlyphs" >Hours of treatment</text>
<rect x="384.0" y="21.5" width="5" height="1.4" fill="#111" stroke="none" stroke-width="1" />
<rect x="410.8" y="22.15" width="5" height="1.1" fill="#222" stroke="none" stroke-width="1" />
<rect x="412.75" y="20.2" width="1.1" height="5" fill="#222" stroke="none" stroke-width="1" />
<rect x="441.0" y="21.5" width="5" height="1.4" fill="#111" stroke="none" stroke-width="1" />
<rect x="466.8" y="22.15" width="5" height="1.1" fill="#222" stroke="none" stroke-width="1" />
<rect x="468.75" y="20.2" width="1.1" height="5" fill="#222" stroke="none" stroke-width="1" />
<text x="386.5" y="39.2" font-family='"Liberation Serif", serif' font-size="8.8" font-weight="normal" font-style="normal" text-anchor="middle" fill="#111" stroke="#111" stroke-width="0.15" >0</text>
<text x="413.1" y="39.2" font-family='"Liberation Serif", serif' font-size="8.8" font-weight="normal" font-style="normal" text-anchor="middle" fill="#111" stroke="#111" stroke-width="0.15" >24</text>
<text x="443.6" y="39.2" font-family='"Liberation Serif", serif' font-size="8.8" font-weight="normal" font-style="normal" text-anchor="middle" fill="#111" stroke="#111" stroke-width="0.15" >0</text>
<text x="469" y="39.2" font-family='"Liberation Serif", serif' font-size="8.8" font-weight="normal" font-style="normal" text-anchor="middle" fill="#111" stroke="#111" stroke-width="0.15" >24</text>
<text x="365.3" y="58.8" font-family='"Liberation Serif", serif' font-size="9" font-weight="normal" font-style="normal" text-anchor="end" fill="#111" stroke="#111" stroke-width="0.15" textLength="13.7" lengthAdjust="spacingAndGlyphs" >p27</text>
<text x="365.8" y="90.8" font-family='"Liberation Serif", serif' font-size="9" font-weight="normal" font-style="normal" text-anchor="end" fill="#111" stroke="#111" stroke-width="0.15" textLength="34.8" lengthAdjust="spacingAndGlyphs" >&#945;-tubulin</text>
<rect x="373.1" y="45.3" width="111.6" height="15.9" fill="#cdcdcd" stroke="#1a1a1a" stroke-width="1.3" />
<rect x="377.3" y="50.699999999999996" width="18.19999999999999" height="5.6000000000000005" rx="2.8000000000000003" fill="#333" opacity="0.45" filter="url(#bl2)"/>
<rect x="378.1" y="51.5" width="16.599999999999987" height="4.0" rx="2.0" fill="#333" filter="url(#bl)"/>
<rect x="405.7" y="50.099999999999994" width="17.600000000000023" height="6.4" rx="3.2" fill="#1a1a1a" opacity="0.45" filter="url(#bl2)"/>
<rect x="406.5" y="50.9" width="16.00000000000002" height="4.8" rx="2.4" fill="#1a1a1a" filter="url(#bl)"/>
<rect x="433.3" y="50.1" width="17.19999999999999" height="5.2" rx="2.6" fill="#a4a4a4" opacity="0.45" filter="url(#bl2)"/>
<rect x="434.1" y="50.900000000000006" width="15.599999999999989" height="3.6" rx="1.8" fill="#a4a4a4" filter="url(#bl)"/>
<rect x="458.5" y="50.1" width="19.399999999999977" height="5.2" rx="2.6" fill="#a4a4a4" opacity="0.45" filter="url(#bl2)"/>
<rect x="459.3" y="50.900000000000006" width="17.799999999999976" height="3.6" rx="1.8" fill="#a4a4a4" filter="url(#bl)"/>
<rect x="373.1" y="76.8" width="111.6" height="15.1" fill="#dddddd" stroke="#1a1a1a" stroke-width="1.3" />
<rect x="375.0" y="82.4" width="17.5" height="5.2" rx="2.6" fill="#151515" opacity="0.45" filter="url(#bl2)"/>
<rect x="375.8" y="83.2" width="15.9" height="3.6" rx="1.8" fill="#151515" filter="url(#bl)"/>
<rect x="404.0" y="82.60000000000001" width="18.5" height="5.2" rx="2.6" fill="#151515" opacity="0.45" filter="url(#bl2)"/>
<rect x="404.8" y="83.4" width="16.9" height="3.6" rx="1.8" fill="#151515" filter="url(#bl)"/>
<rect x="434.3" y="83.85" width="17.19999999999999" height="4.5" rx="2.25" fill="#1c1c1c" opacity="0.45" filter="url(#bl2)"/>
<rect x="435.1" y="84.64999999999999" width="15.599999999999989" height="2.9" rx="1.45" fill="#1c1c1c" filter="url(#bl)"/>
<rect x="463.4" y="82.2" width="18.200000000000045" height="6.0" rx="3.0" fill="#111" opacity="0.45" filter="url(#bl2)"/>
<rect x="464.2" y="83.0" width="16.600000000000044" height="4.3999999999999995" rx="2.1999999999999997" fill="#111" filter="url(#bl)"/>
<text x="386.4" y="69.2" font-family='"Liberation Serif", serif' font-size="7.3" font-weight="normal" font-style="italic" text-anchor="middle" fill="#111" stroke="#111" stroke-width="0.15" >1</text>
<text x="413.2" y="69.2" font-family='"Liberation Serif", serif' font-size="7.3" font-weight="normal" font-style="italic" text-anchor="middle" fill="#111" stroke="#111" stroke-width="0.15" >2.5</text>
<text x="444.1" y="69.2" font-family='"Liberation Serif", serif' font-size="7.3" font-weight="normal" font-style="italic" text-anchor="middle" fill="#111" stroke="#111" stroke-width="0.15" >0.3</text>
<text x="469.2" y="69.2" font-family='"Liberation Serif", serif' font-size="7.3" font-weight="normal" font-style="italic" text-anchor="middle" fill="#111" stroke="#111" stroke-width="0.15" >0.4</text>
<text x="384" y="110.8" font-family='"Liberation Serif", serif' font-size="9" font-weight="normal" font-style="normal" text-anchor="start" fill="#111" stroke="#111" stroke-width="0.15" textLength="69" lengthAdjust="spacingAndGlyphs" >Treatment duration</text>
<line x1="342.7" y1="113.6" x2="491.5" y2="113.6" stroke="#111" stroke-width="1.3"/>
<text x="350.6" y="124.2" font-family='"Liberation Serif", serif' font-size="9" font-weight="bold" font-style="normal" text-anchor="start" fill="#111" stroke="#111" stroke-width="0.15" textLength="21.1" lengthAdjust="spacingAndGlyphs" >0 hour</text>
<text x="397.3" y="124.2" font-family='"Liberation Serif", serif' font-size="9" font-weight="bold" font-style="normal" text-anchor="start" fill="#111" stroke="#111" stroke-width="0.15" textLength="29.5" lengthAdjust="spacingAndGlyphs" >24 hours</text>
<text x="457.6" y="124.2" font-family='"Liberation Serif", serif' font-size="9" font-weight="bold" font-style="normal" text-anchor="start" fill="#111" stroke="#111" stroke-width="0.15" textLength="29.9" lengthAdjust="spacingAndGlyphs" >48 hours</text>
<line x1="340.8" y1="128.1" x2="381.2" y2="128.1" stroke="#111" stroke-width="1.4"/>
<line x1="392.3" y1="128.1" x2="432.3" y2="128.1" stroke="#111" stroke-width="1.4"/>
<line x1="448.5" y1="128.1" x2="490.8" y2="128.1" stroke="#111" stroke-width="1.4"/>
<line x1="334.2" y1="223.0" x2="334.2" y2="130" stroke="#333" stroke-width="1.1"/>
<line x1="334.2" y1="223.0" x2="496" y2="223.0" stroke="#333" stroke-width="1.1"/>
<line x1="332.2" y1="223.0" x2="334.2" y2="223.0" stroke="#333" stroke-width="0.8"/>
<line x1="332.2" y1="207.58333333333334" x2="334.2" y2="207.58333333333334" stroke="#333" stroke-width="0.8"/>
<line x1="332.2" y1="192.16666666666666" x2="334.2" y2="192.16666666666666" stroke="#333" stroke-width="0.8"/>
<line x1="332.2" y1="176.75" x2="334.2" y2="176.75" stroke="#333" stroke-width="0.8"/>
<line x1="332.2" y1="161.33333333333334" x2="334.2" y2="161.33333333333334" stroke="#333" stroke-width="0.8"/>
<line x1="332.2" y1="145.91666666666669" x2="334.2" y2="145.91666666666669" stroke="#333" stroke-width="0.8"/>
<line x1="332.2" y1="130.5" x2="334.2" y2="130.5" stroke="#333" stroke-width="0.8"/>
<text x="328.4" y="225.6" font-family='"Liberation Serif", serif' font-size="7.5" font-weight="normal" font-style="normal" text-anchor="end" fill="#111" stroke="#111" stroke-width="0.15" >0</text>
<text x="328.4" y="194.76666666666665" font-family='"Liberation Serif", serif' font-size="7.5" font-weight="normal" font-style="normal" text-anchor="end" fill="#111" stroke="#111" stroke-width="0.15" >2</text>
<text x="328.4" y="163.93333333333334" font-family='"Liberation Serif", serif' font-size="7.5" font-weight="normal" font-style="normal" text-anchor="end" fill="#111" stroke="#111" stroke-width="0.15" >4</text>
<text x="328.4" y="133.1" font-family='"Liberation Serif", serif' font-size="7.5" font-weight="normal" font-style="normal" text-anchor="end" fill="#111" stroke="#111" stroke-width="0.15" >6</text>
<text transform="translate(312.8,202.2) rotate(-90)" font-family='"Liberation Serif", serif' font-size="8.7" font-weight="bold" fill="#111" textLength="50.4" lengthAdjust="spacingAndGlyphs">Cells/mL x 10</text>
<text transform="translate(308.8,148.6) rotate(-90)" font-family='"Liberation Serif", serif' font-size="5.5" font-weight="bold" fill="#111">5</text>
<rect x="342.09999999999997" y="192.56666666666666" width="6.1000000000000005" height="30.433333333333344" fill="#fff" stroke="#222" stroke-width="0.9" />
<rect x="349.0" y="192.56666666666666" width="6.7" height="30.433333333333344" fill="#fff" stroke="#222" stroke-width="0.9" />
<rect x="363.5" y="192.16666666666666" width="7.3" height="30.833333333333343" fill="#080808" stroke="none" stroke-width="1" />
<rect x="370.8" y="192.16666666666666" width="7.5" height="30.833333333333343" fill="#080808" stroke="none" stroke-width="1" />
<line x1="399.95" y1="163.64583333333334" x2="399.95" y2="161.95000000000002" stroke="#222" stroke-width="0.8"/>
<line x1="397.95" y1="161.95000000000002" x2="401.95" y2="161.95000000000002" stroke="#222" stroke-width="0.9"/>
<rect x="396.9" y="164.04583333333335" width="6.1000000000000005" height="58.95416666666666" fill="#fff" stroke="#222" stroke-width="0.9" />
<line x1="407.45" y1="179.0625" x2="407.45" y2="175.97916666666666" stroke="#222" stroke-width="0.8"/>
<line x1="405.45" y1="175.97916666666666" x2="409.45" y2="175.97916666666666" stroke="#222" stroke-width="0.9"/>
<rect x="403.79999999999995" y="179.4625" width="7.3" height="43.5375" fill="#fff" stroke="#222" stroke-width="0.9" />
<line x1="422.5" y1="158.86666666666667" x2="422.5" y2="157.63333333333335" stroke="#222" stroke-width="0.8"/>
<line x1="420.5" y1="157.63333333333335" x2="424.5" y2="157.63333333333335" stroke="#222" stroke-width="0.9"/>
<rect x="418.9" y="158.86666666666667" width="7.2" height="64.13333333333333" fill="#080808" stroke="none" stroke-width="1" />
<line x1="429.95000000000005" y1="166.72916666666669" x2="429.95000000000005" y2="165.65" stroke="#222" stroke-width="0.8"/>
<line x1="427.95000000000005" y1="165.65" x2="431.95000000000005" y2="165.65" stroke="#222" stroke-width="0.9"/>
<rect x="426.1" y="166.72916666666669" width="7.7" height="56.270833333333314" fill="#080808" stroke="none" stroke-width="1" />
<line x1="456.1" y1="146.99583333333334" x2="456.1" y2="143.9125" stroke="#222" stroke-width="0.8"/>
<line x1="454.1" y1="143.9125" x2="458.1" y2="143.9125" stroke="#222" stroke-width="0.9"/>
<rect x="452.7" y="147.39583333333334" width="6.8" height="75.60416666666666" fill="#fff" stroke="#222" stroke-width="0.9" />
<line x1="464.2" y1="178.29166666666669" x2="464.2" y2="176.28750000000002" stroke="#222" stroke-width="0.8"/>
<line x1="462.2" y1="176.28750000000002" x2="466.2" y2="176.28750000000002" stroke="#222" stroke-width="0.9"/>
<rect x="460.9" y="178.6916666666667" width="6.6000000000000005" height="44.308333333333316" fill="#fff" stroke="#222" stroke-width="0.9" />
<line x1="477.5" y1="142.83333333333331" x2="477.5" y2="140.98333333333332" stroke="#222" stroke-width="0.8"/>
<line x1="475.5" y1="140.98333333333332" x2="479.5" y2="140.98333333333332" stroke="#222" stroke-width="0.9"/>
<rect x="473.6" y="142.83333333333331" width="7.8" height="80.16666666666669" fill="#080808" stroke="none" stroke-width="1" />
<line x1="485.5" y1="154.39583333333331" x2="485.5" y2="149.77083333333331" stroke="#222" stroke-width="0.8"/>
<line x1="483.5" y1="149.77083333333331" x2="487.5" y2="149.77083333333331" stroke="#222" stroke-width="0.9"/>
<rect x="481.4" y="154.39583333333331" width="8.2" height="68.60416666666669" fill="#080808" stroke="none" stroke-width="1" />
<line x1="370.6" y1="193.16666666666666" x2="370.6" y2="222.5" stroke="#888" stroke-width="0.7"/>
<line x1="426.1" y1="167.72916666666669" x2="426.1" y2="222.5" stroke="#888" stroke-width="0.7"/>
<line x1="481.4" y1="155.39583333333331" x2="481.4" y2="222.5" stroke="#888" stroke-width="0.7"/>
<text x="327.5" y="237.1" font-family='"Liberation Serif", serif' font-size="9" font-weight="normal" font-style="normal" text-anchor="end" fill="#111" stroke="#111" stroke-width="0.15" textLength="22.3" lengthAdjust="spacingAndGlyphs" >A3D8</text>
<rect x="343.2" y="232.9" width="4.6" height="1.4" fill="#111" stroke="none" stroke-width="1" />
<rect x="365.3" y="232.9" width="4.6" height="1.4" fill="#111" stroke="none" stroke-width="1" />
<rect x="397.09999999999997" y="232.9" width="4.6" height="1.4" fill="#111" stroke="none" stroke-width="1" />
<rect x="419.7" y="232.9" width="4.6" height="1.4" fill="#111" stroke="none" stroke-width="1" />
<rect x="454.09999999999997" y="232.9" width="4.6" height="1.4" fill="#111" stroke="none" stroke-width="1" />
<rect x="476.5" y="232.9" width="4.6" height="1.4" fill="#111" stroke="none" stroke-width="1" />
<rect x="352.0" y="233.85" width="4.8" height="1.1" fill="#222" stroke="none" stroke-width="1" />
<rect x="353.84999999999997" y="232.0" width="1.1" height="4.8" fill="#222" stroke="none" stroke-width="1" />
<rect x="374.0" y="233.85" width="4.8" height="1.1" fill="#222" stroke="none" stroke-width="1" />
<rect x="375.84999999999997" y="232.0" width="1.1" height="4.8" fill="#222" stroke="none" stroke-width="1" />
<rect x="406.1" y="233.85" width="4.8" height="1.1" fill="#222" stroke="none" stroke-width="1" />
<rect x="407.95" y="232.0" width="1.1" height="4.8" fill="#222" stroke="none" stroke-width="1" />
<rect x="428.20000000000005" y="233.85" width="4.8" height="1.1" fill="#222" stroke="none" stroke-width="1" />
<rect x="430.05" y="232.0" width="1.1" height="4.8" fill="#222" stroke="none" stroke-width="1" />
<rect x="463.0" y="233.85" width="4.8" height="1.1" fill="#222" stroke="none" stroke-width="1" />
<rect x="464.84999999999997" y="232.0" width="1.1" height="4.8" fill="#222" stroke="none" stroke-width="1" />
<rect x="485.1" y="233.85" width="4.8" height="1.1" fill="#222" stroke="none" stroke-width="1" />
<rect x="486.95" y="232.0" width="1.1" height="4.8" fill="#222" stroke="none" stroke-width="1" />
<rect x="322.7" y="254.9" width="10.8" height="5.8" fill="#fff" stroke="#222" stroke-width="1" />
<text x="341.8" y="259.1" font-family='"Liberation Serif", serif' font-size="7.5" font-weight="normal" font-style="normal" text-anchor="start" fill="#111" stroke="#111" stroke-width="0.15" textLength="85.9" lengthAdjust="spacingAndGlyphs" >Empty vector infected cells</text>
<rect x="435.1" y="252.7" width="11.1" height="6.9" fill="#080808" stroke="none" stroke-width="1" />
<text x="454.9" y="258.9" font-family='"Liberation Serif", serif' font-size="7.5" font-weight="bold" font-style="normal" text-anchor="start" fill="#111" stroke="#111" stroke-width="0.15" textLength="64" lengthAdjust="spacingAndGlyphs" ><tspan font-style="italic">ASp27</tspan> infected cells</text>
</svg>
</body></html>
